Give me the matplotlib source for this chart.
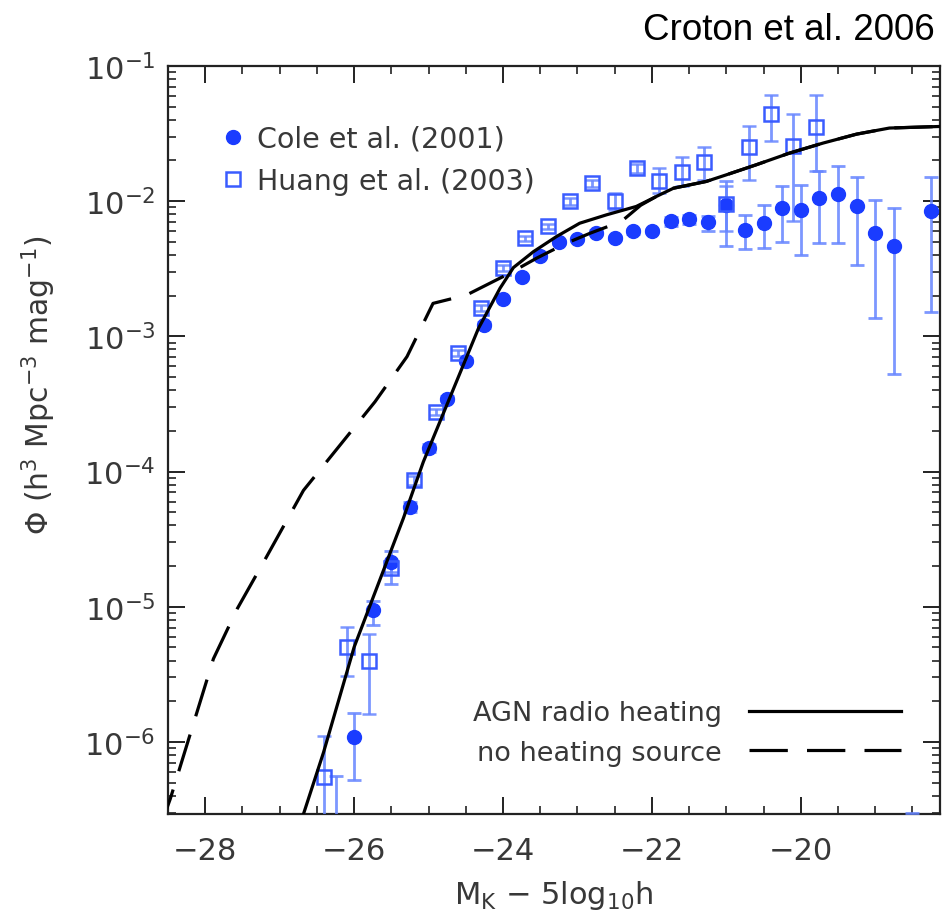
import numpy as np
import matplotlib
matplotlib.use("Agg")
import matplotlib.pyplot as plt
from matplotlib.lines import Line2D
from matplotlib.ticker import MultipleLocator, LogLocator, NullFormatter

# ---------------- data ----------------
# Cole et al. (2001) - filled circles
cole_x = [-26.25, -26.0, -25.75, -25.5, -25.25, -25.0, -24.75, -24.5, -24.25, -24.0,
          -23.75, -23.5, -23.25, -23.0, -22.75, -22.5, -22.25, -22.0, -21.75, -21.5,
          -21.25, -21.0, -20.75, -20.5, -20.25, -20.0, -19.75, -19.5, -19.25, -19.0,
          -18.75, -18.5, -18.25]
cole_y = [1.5e-7, 1.08e-6, 9.4e-6, 2.14e-5, 5.48e-5, 1.5e-4, 3.47e-4, 6.6e-4, 1.21e-3, 1.89e-3,
          2.74e-3, 3.9e-3, 5.0e-3, 5.23e-3, 5.86e-3, 5.32e-3, 5.97e-3, 6.03e-3, 7.08e-3, 7.36e-3,
          6.99e-3, 9.39e-3, 6.1e-3, 6.95e-3, 8.87e-3, 8.62e-3, 1.06e-2, 1.13e-2, 9.29e-3, 5.8e-3,
          4.67e-3, 1.0e-7, 8.39e-3]
cole_lo = [1.0e-7, 5.24e-7, 7.36e-6, 1.48e-5, 5.0e-5, 1.4e-4, 3.3e-4, 6.3e-4, 1.15e-3, 1.82e-3,
           2.65e-3, 3.8e-3, 4.85e-3, 5.05e-3, 5.65e-3, 5.12e-3, 5.75e-3, 5.8e-3, 6.6e-3, 6.8e-3,
           6.0e-3, 4.64e-3, 4.43e-3, 4.49e-3, 5.03e-3, 4.0e-3, 4.89e-3, 4.89e-3, 3.4e-3, 1.37e-3,
           5.25e-4, 5.0e-8, 1.51e-3]
cole_hi = [5.6e-7, 1.64e-6, 1.11e-5, 2.6e-5, 6.0e-5, 1.6e-4, 3.65e-4, 6.9e-4, 1.27e-3, 1.96e-3,
           2.83e-3, 4.0e-3, 5.15e-3, 5.4e-3, 6.07e-3, 5.52e-3, 6.2e-3, 6.25e-3, 7.6e-3, 7.9e-3,
           7.8e-3, 1.41e-2, 7.87e-3, 9.39e-3, 1.30e-2, 1.32e-2, 1.66e-2, 1.81e-2, 1.52e-2, 1.02e-2,
           8.87e-3, 3.0e-7, 1.52e-2]

# Huang et al. (2003) - open squares
huang_x = [-26.4, -26.1, -25.8, -25.5, -25.2, -24.9, -24.6, -24.3, -24.0, -23.7,
           -23.4, -23.1, -22.8, -22.5, -22.2, -21.9, -21.6, -21.3, -21.0, -20.7,
           -20.4, -20.1, -19.8]
huang_y = [5.48e-7, 5.02e-6, 3.94e-6, 1.95e-5, 8.63e-5, 2.74e-4, 7.48e-4, 1.61e-3, 3.19e-3, 5.32e-3,
           6.5e-3, 9.95e-3, 1.36e-2, 1.01e-2, 1.75e-2, 1.42e-2, 1.64e-2, 1.94e-2, 9.6e-3, 2.51e-2,
           4.43e-2, 2.54e-2, 3.52e-2]
huang_lo = [1.0e-8, 3.1e-6, 1.61e-6, 1.8e-5, 8.0e-5, 2.6e-4, 7.1e-4, 1.53e-3, 3.05e-3, 5.1e-3,
            6.2e-3, 9.4e-3, 1.28e-2, 8.6e-3, 1.62e-2, 1.15e-2, 1.29e-2, 1.44e-2, 6.0e-3, 1.44e-2,
            2.77e-2, 7.08e-3, 1.66e-2]
huang_hi = [1.11e-6, 7.08e-6, 6.3e-6, 2.1e-5, 9.3e-5, 2.9e-4, 7.9e-4, 1.7e-3, 3.35e-3, 5.55e-3,
            6.8e-3, 1.05e-2, 1.44e-2, 1.15e-2, 1.88e-2, 1.75e-2, 2.11e-2, 2.5e-2, 1.3e-2, 3.61e-2,
            6.07e-2, 4.41e-2, 6.07e-2]

# Model: AGN radio heating (solid)
agn_x = [-26.8, -26.68, -26.41, -26.0, -25.34, -25.07, -24.33, -24.04, -23.86, -23.59,
         -23.28, -22.97, -22.61, -22.21, -21.94, -21.71, -21.27, -21.0, -20.6, -20.15,
         -19.7, -19.25, -18.81, -18.0]
agn_logy = [-6.73, -6.533, -6.076, -5.299, -4.348, -3.928, -2.941, -2.644, -2.491, -2.373,
            -2.261, -2.163, -2.101, -2.039, -1.965, -1.904, -1.854, -1.805, -1.731, -1.644,
            -1.570, -1.504, -1.459, -1.445]

# Model: no heating source (dashed)
noheat_x = [-28.6, -28.47, -27.89, -27.57, -27.19, -26.68, -26.19, -25.72, -25.29, -24.94,
            -24.49, -23.91, -23.55, -23.15, -22.83, -22.41, -22.15, -21.94, -21.71, -21.27,
            -21.0, -20.6, -20.15, -19.7, -19.25, -18.81, -18.0]
noheat_logy = [-6.62, -6.422, -5.385, -5.015, -4.644, -4.139, -3.805, -3.484, -3.150, -2.756,
               -2.694, -2.533, -2.422, -2.311, -2.237, -2.150, -2.03, -1.965, -1.904, -1.854,
               -1.805, -1.731, -1.644, -1.570, -1.504, -1.459, -1.445]

# ---------------- plot ----------------
plt.rcParams['font.family'] = ['DejaVu Sans']
plt.rcParams['mathtext.fontset'] = 'dejavusans'

fig = plt.figure(figsize=(9.42, 9.2), dpi=100)
ax = fig.add_axes([168/942, 1-815/920, (940-168)/942, (815-67)/920])

tcol = '#383838'
circ_col = '#1a3cff'
sq_col = '#3a5cff'
err_col = (0.40, 0.52, 1.0, 0.85)

cy = np.array(cole_y)
ax.errorbar(cole_x, cole_y,
            yerr=[cy - np.array(cole_lo), np.array(cole_hi) - cy],
            fmt='o', color=circ_col, ms=10, mec=circ_col, ecolor=err_col,
            elinewidth=2.0, capsize=5, capthick=2.0, zorder=3)
hy = np.array(huang_y)
ax.errorbar(huang_x, huang_y,
            yerr=[hy - np.array(huang_lo), np.array(huang_hi) - hy],
            fmt='s', mfc='none', mec=sq_col, mew=1.8, ms=9.5, ecolor=err_col,
            elinewidth=2.0, capsize=5, capthick=2.0, zorder=3)

ax.plot(agn_x, 10**np.array(agn_logy), color='black', lw=2.3, zorder=5,
        solid_capstyle='butt')
ln, = ax.plot(noheat_x, 10**np.array(noheat_logy), color='black', lw=2.3, zorder=5)
ln.set_dashes((12, 6))

ax.set_yscale('log')
ax.set_xlim(-28.5, -18.13)
ax.set_ylim(2.93e-7, 1e-1)

ax.xaxis.set_major_locator(MultipleLocator(2))
ax.xaxis.set_minor_locator(MultipleLocator(0.5))
ax.yaxis.set_major_locator(LogLocator(base=10, numticks=20))
ax.yaxis.set_minor_locator(LogLocator(base=10, subs=np.arange(2, 10), numticks=20))
ax.yaxis.set_minor_formatter(NullFormatter())

ax.tick_params(which='both', direction='in', top=True, right=True, colors='#222222',
               labelcolor=tcol, labelsize=22)
ax.tick_params(which='major', length=12, width=1.4)
ax.tick_params(which='minor', length=6, width=1.2)
ax.tick_params(axis='x', which='major', pad=16)
ax.tick_params(axis='y', which='major', pad=9)
for s in ax.spines.values():
    s.set_linewidth(1.6)
    s.set_color('#222222')

ax.set_xlabel(r'M$_\mathrm{K}$ $-$ 5log$_{10}$h', fontsize=22, color=tcol)
ax.xaxis.set_label_coords(0.5, -0.085)
ax.set_ylabel(r'$\Phi$ (h$^3$ Mpc$^{-3}$ mag$^{-1}$)', fontsize=21.5, color=tcol)
ax.yaxis.set_label_coords(-0.143, 0.575)

# legends
h1 = Line2D([], [], ls='none', marker='o', color=circ_col, ms=10)
h2 = Line2D([], [], ls='none', marker='s', mfc='none', mec=sq_col, mew=1.8, ms=9.5)
leg1 = ax.legend([h1, h2], ['Cole et al. (2001)', 'Huang et al. (2003)'],
                 loc='upper left', bbox_to_anchor=(0.056, 0.937), frameon=False,
                 fontsize=20.5, handlelength=0.75, handletextpad=0.45, labelspacing=0.5,
                 labelcolor=tcol, borderaxespad=0)
ax.add_artist(leg1)

l1 = Line2D([], [], color='black', lw=2.3)
l2 = Line2D([], [], color='black', lw=2.3, dashes=(12, 6))
leg2 = ax.legend([l1, l2], ['AGN radio heating', 'no heating source'],
                 loc='lower right', bbox_to_anchor=(0.963, 0.05), frameon=False,
                 fontsize=19.5, handlelength=5.6, handletextpad=1.0, labelspacing=0.5,
                 markerfirst=False, labelcolor=tcol, borderaxespad=0)

fig.text(935/942, 1-30/920, 'Croton et al. 2006', ha='right', va='center',
         fontsize=26.5, family='Liberation Sans', color='black')

fig.savefig('out.png', dpi=100)
